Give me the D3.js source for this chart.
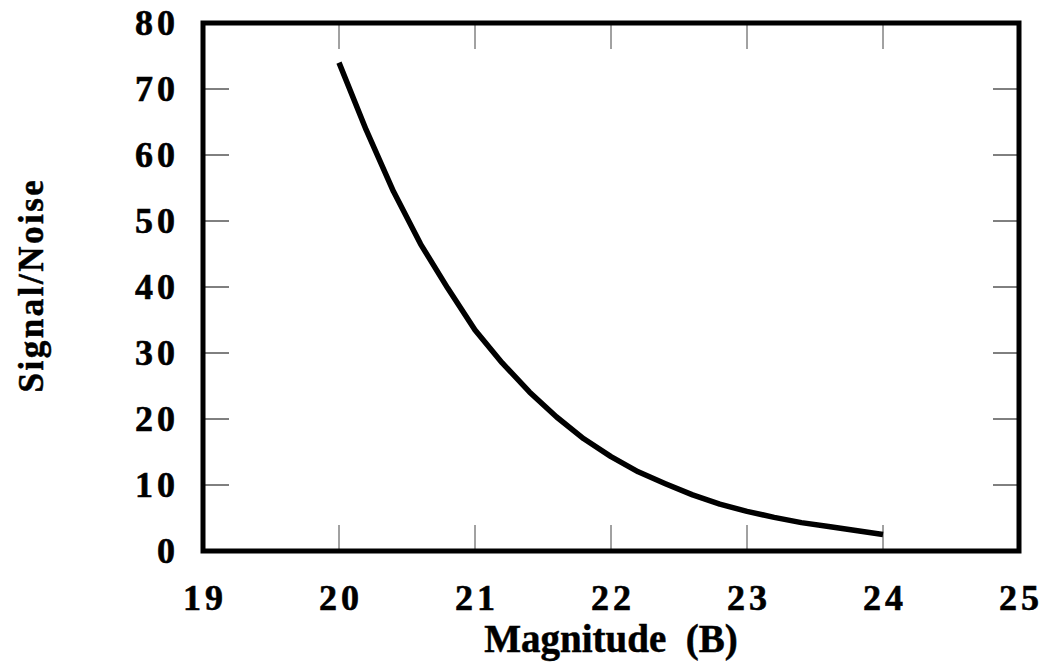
<!DOCTYPE html>
<html><head><meta charset="utf-8">
<script src="https://cdn.jsdelivr.net/npm/d3@7"></script>
<style>html,body{margin:0;padding:0;background:#fff;}svg{display:block;}</style>
</head><body>
<script>
const magnitude = [20.0,20.2,20.4,20.6,20.8,21.0,21.2,21.4,21.6,21.8,22.0,22.2,22.4,22.6,22.8,23.0,23.2,23.4,23.6,23.8,24.0];
const snr = [74,63.8,54.5,46.5,39.8,33.5,28.5,24.1,20.3,17.0,14.3,12.0,10.2,8.5,7.1,6.0,5.1,4.3,3.7,3.1,2.5];
const xTicks = [19,20,21,22,23,24,25];
const yTicks = [0,10,20,30,40,50,60,70,80];
const xTitle = "Magnitude  (B)";
const yTitle = "Signal/Noise";

const W = 1045, H = 670;
const m = {left:203, right:1045-1019, top:23, bottom:670-551};
const svg = d3.select("body").append("svg").attr("width",W).attr("height",H);
const x = d3.scaleLinear().domain([19,25]).range([m.left, W-m.right]);
const y = d3.scaleLinear().domain([0,80]).range([H-m.bottom, m.top]);
const font = "'Liberation Serif','Times New Roman',serif";
const tickLen = 26;

// ticks
const inner = xTicks.filter(t=>t>19&&t<25);
const innerY = yTicks.filter(t=>t>0&&t<80);
svg.append("g").selectAll("line").data(inner).join("line")
  .attr("x1",d=>x(d)).attr("x2",d=>x(d)).attr("y1",y(0)).attr("y2",y(0)-tickLen)
  .attr("stroke","#444").attr("stroke-width",1);
svg.append("g").selectAll("line").data(inner).join("line")
  .attr("x1",d=>x(d)).attr("x2",d=>x(d)).attr("y1",y(80)).attr("y2",y(80)+tickLen)
  .attr("stroke","#444").attr("stroke-width",1);
svg.append("g").selectAll("line").data(innerY).join("line")
  .attr("x1",x(19)).attr("x2",x(19)+tickLen).attr("y1",d=>y(d)).attr("y2",d=>y(d))
  .attr("stroke","#000").attr("stroke-width",1);
svg.append("g").selectAll("line").data(innerY).join("line")
  .attr("x1",x(25)).attr("x2",x(25)-tickLen).attr("y1",d=>y(d)).attr("y2",d=>y(d))
  .attr("stroke","#000").attr("stroke-width",1);

// frame
svg.append("rect").attr("x",x(19)).attr("y",y(80))
  .attr("width",x(25)-x(19)).attr("height",y(0)-y(80))
  .attr("fill","none").attr("stroke","#000").attr("stroke-width",5);

// curve
const line = d3.line().x((d,i)=>x(magnitude[i])).y(d=>y(d));
svg.append("path").datum(snr).attr("d",line)
  .attr("fill","none").attr("stroke","#000").attr("stroke-width",5.5)
  .attr("stroke-linejoin","round").attr("stroke-linecap","butt");

// tick labels
svg.append("g").selectAll("text").data(xTicks).join("text")
  .attr("x",d=>x(d)+2).attr("y",610).attr("text-anchor","middle")
  .attr("font-family",font).attr("font-weight","bold").attr("font-size",36)
  .attr("letter-spacing","4px").attr("stroke","#000").attr("stroke-width",0.6)
  .text(d=>d);
svg.append("g").selectAll("text").data(yTicks).join("text")
  .attr("x",179).attr("y",d=>y(d)).attr("dy","0.34em").attr("text-anchor","end")
  .attr("font-family",font).attr("font-weight","bold").attr("font-size",36)
  .attr("letter-spacing","4px").attr("stroke","#000").attr("stroke-width",0.6)
  .text(d=>d);

// titles
svg.append("text").attr("x",(x(19)+x(25))/2).attr("y",652).attr("text-anchor","middle")
  .attr("font-family",font).attr("font-weight","bold").attr("font-size",39)
  .attr("stroke","#000").attr("stroke-width",0.5)
  .attr("xml:space","preserve").style("white-space","pre")
  .text(xTitle);
svg.append("text").attr("transform",`translate(43,${(y(0)+y(80))/2 - 2}) rotate(-90)`)
  .attr("text-anchor","middle")
  .attr("font-family",font).attr("font-weight","bold").attr("font-size",35)
  .attr("letter-spacing","2.5px").attr("stroke","#000").attr("stroke-width",0.5)
  .text(yTitle);
</script>
</body></html>
